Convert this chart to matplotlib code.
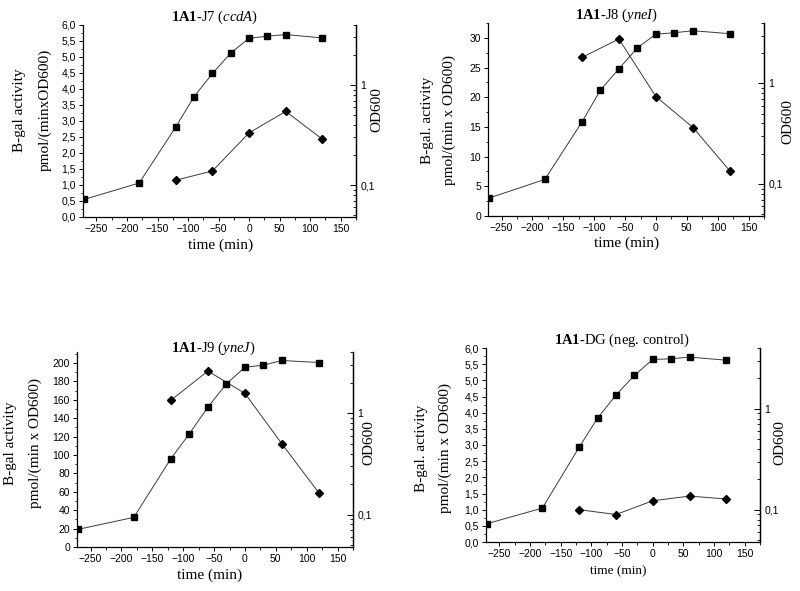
import matplotlib
matplotlib.use("Agg")
import matplotlib.pyplot as plt
from matplotlib.ticker import FuncFormatter, MultipleLocator, LogLocator, NullFormatter, FixedLocator

plt.rcParams['mathtext.fontset'] = 'custom'
plt.rcParams['mathtext.rm'] = 'Liberation Serif'
plt.rcParams['mathtext.it'] = 'Liberation Serif:italic'
plt.rcParams['mathtext.bf'] = 'Liberation Serif:bold'

# time points (min)
time_od = [-270, -180, -120, -90, -60, -30, 0, 30, 60, 120]
time_gal = [-120, -60, 0, 60, 120]

# OD600 (squares, right log axis) and B-gal activity (diamonds, left axis)
od_j7 = [0.072, 0.105, 0.383, 0.77, 1.31, 2.1, 2.95, 3.09, 3.21, 2.97]
gal_j7 = [1.15, 1.44, 2.63, 3.30, 2.43]
od_j8 = [0.0725, 0.111, 0.412, 0.858, 1.40, 2.27, 3.10, 3.2, 3.35, 3.13]
gal_j8 = [26.7, 29.8, 20.1, 14.9, 7.55]
od_j9 = [0.0717, 0.094, 0.356, 0.626, 1.146, 1.94, 2.83, 2.97, 3.30, 3.15]
gal_j9 = [159.5, 191.3, 167, 112, 58.6]
od_dg = [0.073, 0.104, 0.417, 0.809, 1.366, 2.14, 3.08, 3.13, 3.25, 3.03]
gal_dg = [1.0, 0.85, 1.275, 1.42, 1.33]

titles = [r'$\mathbf{1A1}$-J7 ($\mathit{ccdA}$)',
          r'$\mathbf{1A1}$-J8 ($\mathit{yneI}$)',
          r'$\mathbf{1A1}$-J9 ($\mathit{yneJ}$)',
          r'$\mathbf{1A1}$-DG (neg. control)']
ylab1 = ['B-gal activity', 'B-gal. activity', 'B-gal activity', 'B-gal. activity']
ylab2 = ['pmol/(minxOD600)', 'pmol/(min x OD600)', 'pmol/(min x OD600)', 'pmol/(min x OD600)']

W, H = 800, 591
SERIF = 'Liberation Serif'
SANS = 'Liberation Sans'

fig = plt.figure(figsize=(8, 5.91), dpi=100)


def px(x, y):
    return x / W, 1 - y / H


def comma(fmt):
    return FuncFormatter(lambda v, p: (fmt % v).replace('.', ','))


def panel(box, od, gal, ymax, ystep, yfmt, title, yl1, yl2, lab):
    l, r, t, b = box
    ax = fig.add_axes([l / W, 1 - b / H, (r - l) / W, (b - t) / H])
    ax2 = ax.twinx()
    ax.plot(time_gal, gal, color='#3a3a3a', lw=0.7, marker='D', ms=3.6,
            mfc='black', mec='black')
    ax2.plot(time_od, od, color='#3a3a3a', lw=0.7, marker='s', ms=4.2,
             mfc='black', mec='black')
    ax.set_xlim(-272, 175)
    ax.set_ylim(0, ymax)
    ax2.set_yscale('log')
    ax2.set_ylim(0.048, 4.0)

    ax.xaxis.set_major_locator(MultipleLocator(50))
    ax.xaxis.set_minor_locator(MultipleLocator(25))
    ax.yaxis.set_major_locator(MultipleLocator(ystep))
    ax.yaxis.set_minor_locator(MultipleLocator(ystep / 2))
    ax.yaxis.set_major_formatter(comma(yfmt))
    ax2.yaxis.set_major_locator(FixedLocator([0.1, 1]))
    ax2.yaxis.set_major_formatter(FuncFormatter(lambda v, p: '1' if v > 0.5 else '0,1'))
    ax2.yaxis.set_minor_locator(LogLocator(base=10, subs=range(2, 10)))
    ax2.yaxis.set_minor_formatter(NullFormatter())

    for a in (ax, ax2):
        a.spines['top'].set_visible(False)
        for s in a.spines.values():
            s.set_linewidth(0.9)
    ax2.spines['left'].set_visible(False)
    ax2.spines['bottom'].set_visible(False)

    ax.tick_params(axis='both', which='major', labelsize=7.5, length=3, width=0.7, pad=2)
    ax.tick_params(axis='both', which='minor', length=1.8, width=0.6)
    ax2.tick_params(axis='y', which='major', direction='in', labelsize=7.5, length=4, width=0.7, pad=3)
    ax2.tick_params(axis='y', which='minor', direction='in', length=2, width=0.6)
    for lbl in ax.get_xticklabels() + ax.get_yticklabels() + ax2.get_yticklabels():
        lbl.set_fontfamily(SANS)

    tx, ty, bx1, bx2, by, ox, oy, mx, my, msize = lab
    fig.text(*px(tx, ty), title, ha='center', va='center', fontsize=10.5, family=SERIF)
    fig.text(*px(bx1, by), yl1, ha='center', va='center', rotation=90, fontsize=11, family=SERIF)
    fig.text(*px(bx2, by), yl2, ha='center', va='center', rotation=90, fontsize=11, family=SERIF)
    fig.text(*px(ox, oy), 'OD600', ha='center', va='center', rotation=90, fontsize=11, family=SERIF)
    fig.text(*px(mx, my), 'time (min)', ha='center', va='center', fontsize=msize, family=SERIF)
    return ax, ax2


panel((83, 356, 25, 217), od_j7, gal_j7, 6.0, 0.5, '%.1f', titles[0], ylab1[0], ylab2[0],
      (215, 17, 20, 45, 110, 377, 110, 221, 245, 11))
panel((488, 764, 23, 216), od_j8, gal_j8, 32.5, 5, '%d', titles[1], ylab1[1], ylab2[1],
      (617, 15, 428, 449, 120, 788, 122, 627, 243, 11))
panel((77, 353, 352, 547), od_j9, gal_j9, 212, 20, '%d', titles[2], ylab1[2], ylab2[2],
      (213, 348, 11, 35, 443, 369, 443, 210, 575, 11))
panel((486, 760, 348, 542), od_dg, gal_dg, 6.0, 0.5, '%.1f', titles[3], ylab1[3], ylab2[3],
      (622, 340, 421, 445, 448, 780, 443, 618, 571, 9.5))

fig.savefig('out.png', dpi=100)
